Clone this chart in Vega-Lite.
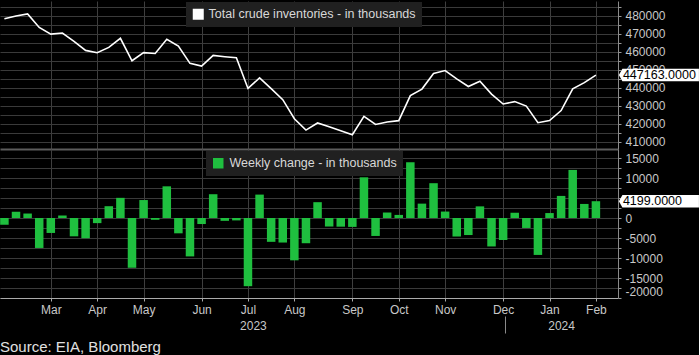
{
  "$schema": "https://vega.github.io/schema/vega-lite/v6.json",
  "background": "#000000",
  "padding": 0,
  "bounds": "flush",
  "spacing": 0,
  "config": {"font": "Liberation Sans", "view": {"stroke": null}},
  "title": {"text": "Source: EIA, Bloomberg", "orient": "bottom", "anchor": "start", "frame": "bounds", "offset": 6, "fontSize": 15, "fontWeight": "normal", "color": "#e0e0e0"},
  "data": {"values": [
    {"date": "2023-03-03", "total": 478486, "change": -1694},
    {"date": "2023-03-10", "total": 480036, "change": 1550},
    {"date": "2023-03-17", "total": 481153, "change": 1117},
    {"date": "2023-03-24", "total": 473664, "change": -7489},
    {"date": "2023-03-31", "total": 469925, "change": -3739},
    {"date": "2023-04-07", "total": 470522, "change": 597},
    {"date": "2023-04-14", "total": 465941, "change": -4581},
    {"date": "2023-04-21", "total": 460887, "change": -5054},
    {"date": "2023-04-28", "total": 459607, "change": -1280},
    {"date": "2023-05-05", "total": 462558, "change": 2951},
    {"date": "2023-05-12", "total": 467598, "change": 5040},
    {"date": "2023-05-19", "total": 455142, "change": -12456},
    {"date": "2023-05-26", "total": 459631, "change": 4489},
    {"date": "2023-06-02", "total": 459180, "change": -451},
    {"date": "2023-06-09", "total": 467099, "change": 7919},
    {"date": "2023-06-16", "total": 463268, "change": -3831},
    {"date": "2023-06-23", "total": 453665, "change": -9603},
    {"date": "2023-06-30", "total": 452157, "change": -1508},
    {"date": "2023-07-07", "total": 458103, "change": 5946},
    {"date": "2023-07-14", "total": 457395, "change": -708},
    {"date": "2023-07-21", "total": 456795, "change": -600},
    {"date": "2023-07-28", "total": 439746, "change": -17049},
    {"date": "2023-08-04", "total": 445597, "change": 5851},
    {"date": "2023-08-11", "total": 439637, "change": -5960},
    {"date": "2023-08-18", "total": 433503, "change": -6134},
    {"date": "2023-08-25", "total": 422919, "change": -10584},
    {"date": "2023-09-01", "total": 416612, "change": -6307},
    {"date": "2023-09-08", "total": 420567, "change": 3955},
    {"date": "2023-09-15", "total": 418432, "change": -2135},
    {"date": "2023-09-22", "total": 416263, "change": -2169},
    {"date": "2023-09-29", "total": 414039, "change": -2224},
    {"date": "2023-10-06", "total": 424215, "change": 10176},
    {"date": "2023-10-13", "total": 419724, "change": -4491},
    {"date": "2023-10-20", "total": 421095, "change": 1371},
    {"date": "2023-10-27", "total": 421868, "change": 773},
    {"date": "2023-11-03", "total": 435805, "change": 13937},
    {"date": "2023-11-10", "total": 439397, "change": 3592},
    {"date": "2023-11-17", "total": 448098, "change": 8701},
    {"date": "2023-11-24", "total": 449707, "change": 1609},
    {"date": "2023-12-01", "total": 445074, "change": -4633},
    {"date": "2023-12-08", "total": 440815, "change": -4259},
    {"date": "2023-12-15", "total": 443724, "change": 2909},
    {"date": "2023-12-22", "total": 436610, "change": -7114},
    {"date": "2023-12-29", "total": 431107, "change": -5503},
    {"date": "2024-01-05", "total": 432445, "change": 1338},
    {"date": "2024-01-12", "total": 429953, "change": -2492},
    {"date": "2024-01-19", "total": 420720, "change": -9233},
    {"date": "2024-01-26", "total": 421954, "change": 1234},
    {"date": "2024-02-02", "total": 427475, "change": 5521},
    {"date": "2024-02-09", "total": 439493, "change": 12018},
    {"date": "2024-02-16", "total": 442964, "change": 3514},
    {"date": "2024-02-23", "total": 447163, "change": 4199}
  ]},
  "vconcat": [
    {
      "width": 618,
      "height": 148,
      "encoding": {
        "x": {"field": "date", "type": "temporal",
          "scale": {"type": "utc", "padding": 0, "domain": [{"year": 2023, "month": 2, "date": 28, "hours": 8, "utc": true}, {"year": 2024, "month": 3, "date": 7, "hours": 8, "utc": true}]},
          "axis": {"title": null, "values": [
            {"year": 2023, "month": 3, "date": 31, "utc": true}, {"year": 2023, "month": 4, "date": 28, "utc": true},
            {"year": 2023, "month": 5, "date": 26, "utc": true}, {"year": 2023, "month": 6, "date": 30, "utc": true},
            {"year": 2023, "month": 7, "date": 28, "utc": true}, {"year": 2023, "month": 8, "date": 25, "utc": true},
            {"year": 2023, "month": 9, "date": 29, "utc": true}, {"year": 2023, "month": 10, "date": 27, "utc": true},
            {"year": 2023, "month": 11, "date": 24, "utc": true}, {"year": 2023, "month": 12, "date": 29, "utc": true},
            {"year": 2024, "month": 1, "date": 26, "utc": true}, {"year": 2024, "month": 2, "date": 23, "utc": true}],
            "grid": true, "gridColor": "#3e3e3e", "gridOpacity": 1, "labels": false, "ticks": false, "domain": true, "domainColor": "#5c5c5c", "domainWidth": 2}},
        "y": {"field": "total", "type": "quantitative",
          "scale": {"domain": [406111, 488333], "zero": false, "nice": false},
          "axis": {"orient": "right", "title": null,
            "values": [410000, 415000, 420000, 425000, 430000, 435000, 440000, 445000, 450000, 455000, 460000, 465000, 470000, 475000, 480000, 485000],
            "labelExpr": "datum.value % 10000 === 0 ? '' + datum.value : ''",
            "grid": true, "gridColor": "#3a3a3a", "gridOpacity": 1, "tickSize": 3, "tickColor": "#999999", "domainColor": "#8a8a8a",
            "labelColor": "#c8c8c8", "labelFontSize": 12, "labelPadding": 4, "labelOverlap": false, "labelFlush": false}}
      },
      "layer": [
        {
          "mark": {"type": "line", "strokeWidth": 1.6},
          "encoding": {
            "color": {"datum": "Total crude inventories - in thousands", "type": "nominal",
              "scale": {"range": ["#ffffff"]},
              "legend": {"orient": "none", "legendX": 186, "legendY": 1, "title": null, "fillColor": "#202020", "padding": 6,
                "labelColor": "#d8d8d8", "labelFontSize": 12.5, "labelLimit": 400, "labelOffset": 4,
                "symbolType": "square", "symbolSize": 121, "symbolStrokeWidth": 0,
                "encode": {"symbols": {"update": {"fill": {"value": "#ffffff"}, "stroke": {"value": "#ffffff"}, "strokeWidth": {"value": 0}, "shape": {"value": "square"}}}}}}
          }
        },
        {
          "transform": [{"filter": "utcyear(datum.date) == 2024 && utcmonth(datum.date) == 1 && utcdate(datum.date) == 23"}],
          "mark": {"type": "point", "shape": "M0.46,0L0.53,-0.125L2.06,-0.125L2.06,0.125L0.53,0.125Z", "filled": true, "color": "#ffffff", "size": 10000, "opacity": 1, "strokeWidth": 0}
        },
        {
          "transform": [{"filter": "utcyear(datum.date) == 2024 && utcmonth(datum.date) == 1 && utcdate(datum.date) == 23"}],
          "mark": {"type": "text", "align": "left", "baseline": "middle", "dx": 27, "fontSize": 12.5, "color": "#000000"},
          "encoding": {
            "text": {"field": "total", "type": "quantitative", "format": ".4f"}
          }
        }
      ]
    },
    {
      "width": 618,
      "height": 149,
      "resolve": {"axis": {"x": "independent"}},
      "encoding": {
        "x": {"field": "date", "type": "temporal",
          "scale": {"type": "utc", "padding": 0, "domain": [{"year": 2023, "month": 2, "date": 28, "hours": 8, "utc": true}, {"year": 2024, "month": 3, "date": 7, "hours": 8, "utc": true}]},
          "axis": {"title": null, "orient": "bottom", "values": [
            {"year": 2023, "month": 3, "date": 31, "utc": true}, {"year": 2023, "month": 4, "date": 28, "utc": true},
            {"year": 2023, "month": 5, "date": 26, "utc": true}, {"year": 2023, "month": 6, "date": 30, "utc": true},
            {"year": 2023, "month": 7, "date": 28, "utc": true}, {"year": 2023, "month": 8, "date": 25, "utc": true},
            {"year": 2023, "month": 9, "date": 29, "utc": true}, {"year": 2023, "month": 10, "date": 27, "utc": true},
            {"year": 2023, "month": 11, "date": 24, "utc": true}, {"year": 2023, "month": 12, "date": 29, "utc": true},
            {"year": 2024, "month": 1, "date": 26, "utc": true}, {"year": 2024, "month": 2, "date": 23, "utc": true}],
            "labelExpr": "utcFormat(datum.value, '%b')",
            "grid": true, "gridColor": "#3e3e3e", "gridOpacity": 1, "tickSize": 3, "tickColor": "#aaaaaa", "domainColor": "#aaaaaa",
            "labelColor": "#c8c8c8", "labelFontSize": 12, "labelPadding": 3, "labelFlush": false, "labelOverlap": false}},
        "y": {"field": "change", "type": "quantitative", "stack": null,
          "scale": {"domain": [-20000, 17250], "nice": false},
          "axis": {"orient": "right", "title": null,
            "values": [-20000, -17500, -15000, -12500, -10000, -7500, -5000, -2500, 0, 2500, 5000, 7500, 10000, 12500, 15000],
            "labelExpr": "datum.value % 5000 === 0 && datum.value != 5000 ? '' + datum.value : ''",
            "grid": true, "gridColor": "#3a3a3a", "gridOpacity": 1, "tickSize": 3, "tickColor": "#999999", "domainColor": "#8a8a8a",
            "labelColor": "#c8c8c8", "labelFontSize": 12, "labelPadding": 4, "labelOverlap": false, "labelFlush": true}}
      },
      "layer": [
        {
          "mark": {"type": "bar", "width": 8.5},
          "encoding": {
            "color": {"datum": "Weekly change - in thousands", "type": "nominal",
              "scale": {"range": ["#1fbf3f"]},
              "legend": {"orient": "none", "legendX": 206, "legendY": 2, "title": null, "fillColor": "#202020", "padding": 6,
                "labelColor": "#d8d8d8", "labelFontSize": 12.5, "labelLimit": 400, "labelOffset": 5,
                "symbolType": "square", "symbolSize": 110, "symbolStrokeWidth": 0}}
          }
        },
        {
          "transform": [{"filter": "utcyear(datum.date) == 2024 && utcmonth(datum.date) == 1 && utcdate(datum.date) == 23"}],
          "mark": {"type": "point", "shape": "M0.46,0L0.53,-0.125L2.06,-0.125L2.06,0.125L0.53,0.125Z", "filled": true, "color": "#ffffff", "size": 10000, "opacity": 1, "strokeWidth": 0},
          "encoding": {
            "x": {"field": "date", "type": "temporal",
              "axis": {"title": null, "orient": "bottom", "offset": 18,
                "values": [{"year": 2023, "month": 7, "date": 31, "utc": true}, {"year": 2023, "month": 12, "date": 30, "utc": true}, {"year": 2024, "month": 2, "date": 2, "utc": true}],
                "labelExpr": "utcmonth(datum.value) == 11 ? '' : utcFormat(datum.value, '%Y')",
                "domain": false, "grid": false, "tickSize": 17, "tickColor": "#8a8a8a",
                "tickOpacity": {"condition": {"test": "utcmonth(datum.value) == 11", "value": 1}, "value": 0},
                "labelPadding": -13, "labelColor": "#c8c8c8", "labelFontSize": 12, "labelFlush": false, "labelOverlap": false}}
          }
        },
        {
          "transform": [{"filter": "utcyear(datum.date) == 2024 && utcmonth(datum.date) == 1 && utcdate(datum.date) == 23"}],
          "mark": {"type": "text", "align": "left", "baseline": "middle", "dx": 27, "fontSize": 12.5, "color": "#000000"},
          "encoding": {
            "x": {"field": "date", "type": "temporal", "axis": null},
            "text": {"field": "change", "type": "quantitative", "format": ".4f"}
          }
        }
      ]
    }
  ],
  "resolve": {"scale": {"color": "independent"}, "legend": {"color": "independent"}}
}
